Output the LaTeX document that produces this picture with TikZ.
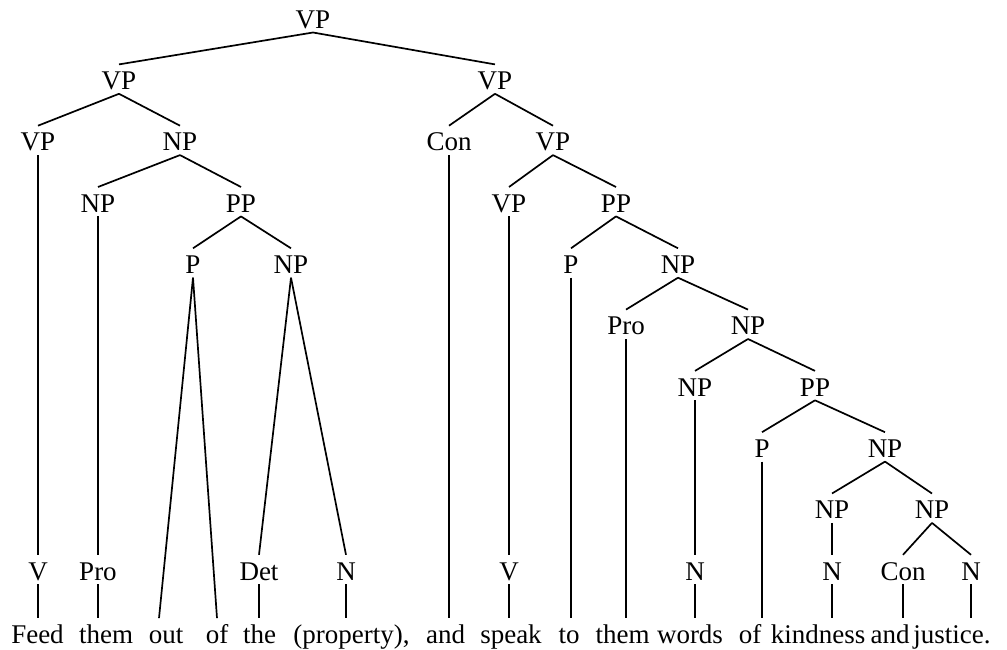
\documentclass[tikz,border=0pt]{standalone}
\usepackage{fontspec}
\setmainfont{Liberation Serif}
\begin{document}
\begin{tikzpicture}[x=1pt,y=-1pt,
  lbl/.style={anchor=base, inner xsep=1pt, inner ysep=4pt, text height=21pt, text depth=0pt, font=\fontsize{27}{32}\selectfont},
  edge/.style={line width=1.7pt}]
\useasboundingbox (0,0) rectangle (1007,650);
% rows (baselines)
\def\rA{28.3}\def\rB{89.6}\def\rC{150.9}\def\rD{212.2}\def\rE{273.5}
\def\rF{334.8}\def\rG{396.1}\def\rH{457.4}\def\rI{518.7}\def\rJ{580}\def\rW{643.3}
% nodes
\node[lbl] (VP0) at (313,\rA) {VP};
\node[lbl] (VP1L) at (119,\rB) {VP};
\node[lbl] (VP1R) at (495,\rB) {VP};
\node[lbl] (VP2a) at (38,\rC) {VP};
\node[lbl] (NP2) at (180,\rC) {NP};
\node[lbl] (Con2) at (449,\rC) {Con};
\node[lbl] (VP2b) at (553,\rC) {VP};
\node[lbl] (NP3) at (98,\rD) {NP};
\node[lbl] (PP3) at (241,\rD) {PP};
\node[lbl] (VP3b) at (509,\rD) {VP};
\node[lbl] (PP3b) at (616,\rD) {PP};
\node[lbl] (P4) at (193,\rE) {P};
\node[lbl] (NP4) at (291,\rE) {NP};
\node[lbl] (P4b) at (571,\rE) {P};
\node[lbl] (NP4b) at (678,\rE) {NP};
\node[lbl] (Pro5) at (626,\rF) {Pro};
\node[lbl] (NP5) at (748,\rF) {NP};
\node[lbl] (NP6) at (695,\rG) {NP};
\node[lbl] (PP6) at (815,\rG) {PP};
\node[lbl] (P7) at (762,\rH) {P};
\node[lbl] (NP7) at (885,\rH) {NP};
\node[lbl] (NP8a) at (832,\rI) {NP};
\node[lbl] (NP8b) at (932,\rI) {NP};
\node[lbl] (V9a) at (38,\rJ) {V};
\node[lbl] (Pro9) at (98,\rJ) {Pro};
\node[lbl] (Det9) at (259,\rJ) {Det};
\node[lbl] (N9a) at (346,\rJ) {N};
\node[lbl] (V9b) at (509,\rJ) {V};
\node[lbl] (N9b) at (695,\rJ) {N};
\node[lbl] (N9c) at (832,\rJ) {N};
\node[lbl] (Con9) at (903,\rJ) {Con};
\node[lbl] (N9d) at (971,\rJ) {N};
% words
\node[lbl] (w1) at (37.5,\rW) {Feed};
\node[lbl] (w2) at (106,\rW) {them};
\node[lbl] (w3) at (166,\rW) {out};
\node[lbl] (w4) at (217,\rW) {of};
\node[lbl] (w5) at (259.7,\rW) {the};
\node[lbl] (w6) at (351.5,\rW) {(property),};
\node[lbl] (w7) at (445.6,\rW) {and};
\node[lbl] (w8) at (511,\rW) {speak};
\node[lbl] (w9) at (569,\rW) {to};
\node[lbl] (w10) at (622.5,\rW) {them};
\node[lbl] (w11) at (690,\rW) {words};
\node[lbl] (w12) at (750,\rW) {of};
\node[lbl] (w13) at (818,\rW) {kindness};
\node[lbl] (w14) at (890,\rW) {and};
\node[lbl] (w15) at (952,\rW) {justice.};
% edges
\draw[edge] (VP0.south) -- (VP1L.north);
\draw[edge] (VP0.south) -- (VP1R.north);
\draw[edge] (VP1L.south) -- (VP2a.north);
\draw[edge] (VP1L.south) -- (NP2.north);
\draw[edge] (VP2a.south) -- (V9a.north);
\draw[edge] (NP2.south) -- (NP3.north);
\draw[edge] (NP2.south) -- (PP3.north);
\draw[edge] (NP3.south) -- (Pro9.north);
\draw[edge] (PP3.south) -- (P4.north);
\draw[edge] (PP3.south) -- (NP4.north);
\draw[edge] (P4.south) -- ([xshift=-7pt]w3.north);
\draw[edge] (P4.south) -- (w4.north);
\draw[edge] (NP4.south) -- (Det9.north);
\draw[edge] (NP4.south) -- (N9a.north);
\draw[edge] (VP1R.south) -- (Con2.north);
\draw[edge] (VP1R.south) -- (VP2b.north);
\draw[edge] (Con2.south) -- (Con2.south |- w7.north);
\draw[edge] (VP2b.south) -- (VP3b.north);
\draw[edge] (VP2b.south) -- (PP3b.north);
\draw[edge] (VP3b.south) -- (V9b.north);
\draw[edge] (PP3b.south) -- (P4b.north);
\draw[edge] (PP3b.south) -- (NP4b.north);
\draw[edge] (P4b.south) -- (P4b.south |- w9.north);
\draw[edge] (NP4b.south) -- (Pro5.north);
\draw[edge] (NP4b.south) -- (NP5.north);
\draw[edge] (Pro5.south) -- (Pro5.south |- w10.north);
\draw[edge] (NP5.south) -- (NP6.north);
\draw[edge] (NP5.south) -- (PP6.north);
\draw[edge] (NP6.south) -- (N9b.north);
\draw[edge] (PP6.south) -- (P7.north);
\draw[edge] (PP6.south) -- (NP7.north);
\draw[edge] (P7.south) -- (P7.south |- w12.north);
\draw[edge] (NP7.south) -- (NP8a.north);
\draw[edge] (NP7.south) -- (NP8b.north);
\draw[edge] (NP8a.south) -- (N9c.north);
\draw[edge] (NP8b.south) -- (Con9.north);
\draw[edge] (NP8b.south) -- (N9d.north);
\draw[edge] (V9a.south) -- (V9a.south |- w1.north);
\draw[edge] (Pro9.south) -- (Pro9.south |- w2.north);
\draw[edge] (Det9.south) -- (Det9.south |- w5.north);
\draw[edge] (N9a.south) -- (N9a.south |- w6.north);
\draw[edge] (V9b.south) -- (V9b.south |- w8.north);
\draw[edge] (N9b.south) -- (N9b.south |- w11.north);
\draw[edge] (N9c.south) -- (N9c.south |- w13.north);
\draw[edge] (Con9.south) -- (Con9.south |- w14.north);
\draw[edge] (N9d.south) -- (N9d.south |- w15.north);
\end{tikzpicture}
\end{document}
